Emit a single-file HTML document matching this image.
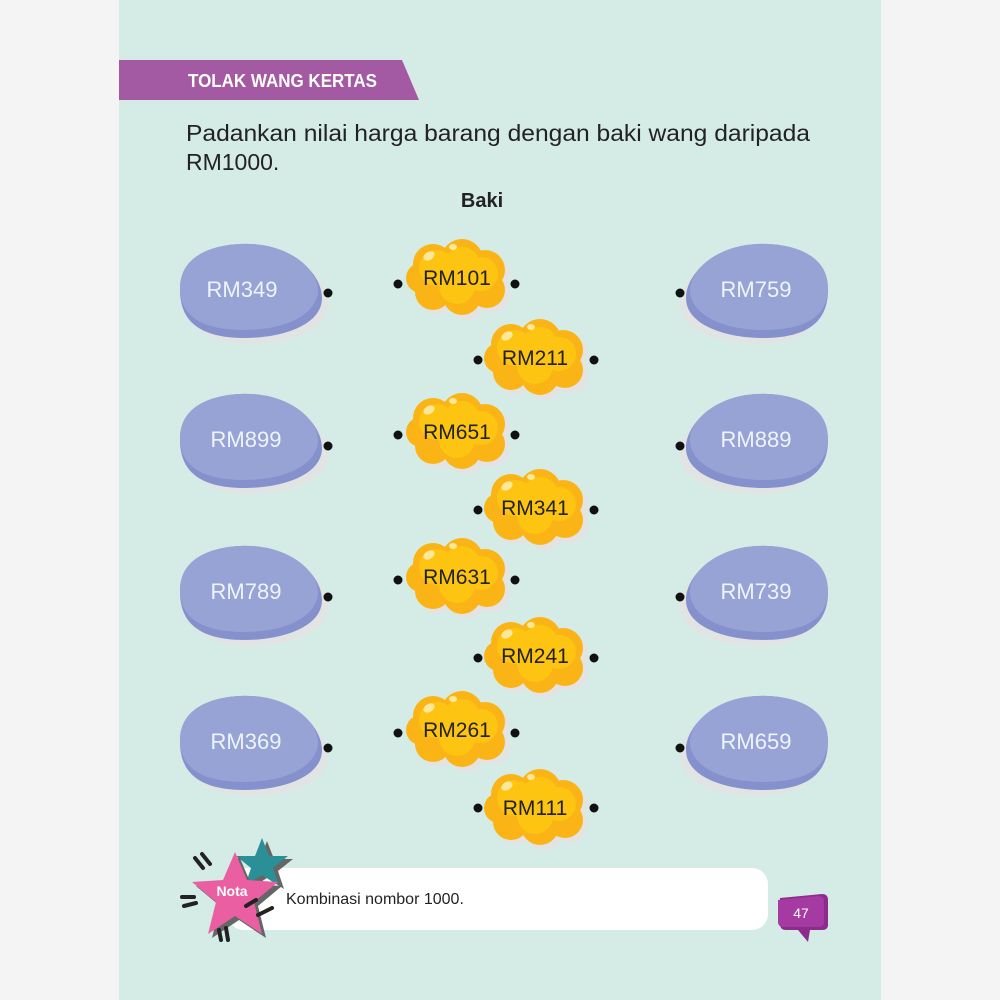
<!DOCTYPE html>
<html><head><meta charset="utf-8"><style>
body{margin:0;width:1000px;height:1000px;background:#f4f4f4;overflow:hidden}
svg{display:block}
text{font-family:"Liberation Sans",sans-serif}
</style></head><body>
<svg width="1000" height="1000" viewBox="0 0 1000 1000">
<defs>
<g id="eggL">
<path d="M-70,0 C-70,-38 -30,-47 0,-46 C40,-45 72,-18 72,8 C72,36 30,48 -5,48 C-45,48 -70,35 -70,0Z" fill="#e2e4e4" transform="translate(6,6)"/>
<path d="M-70,0 C-70,-38 -30,-47 0,-46 C40,-45 72,-18 72,8 C72,36 30,48 -5,48 C-45,48 -70,35 -70,0Z" fill="#8591cc"/>
<path d="M-70,-2 C-70,-38 -30,-47 0,-46 C40,-45 70,-20 68,3 C64,28 30,40 -5,40 C-45,40 -70,28 -70,-2Z" fill="#97a3d4"/>
</g>
<g id="cloud">
<g fill="#e3e3e3" transform="translate(5,5)">
<circle cx="-24" cy="-14" r="20"/><circle cx="5" cy="-18" r="21"/><circle cx="28" cy="-8" r="20"/><circle cx="30" cy="12" r="18"/><circle cx="5" cy="18" r="19"/><circle cx="-24" cy="14" r="18"/><circle cx="-36" cy="0" r="15"/></g>
<g fill="#fbb416">
<circle cx="-24" cy="-14" r="20"/><circle cx="5" cy="-18" r="21"/><circle cx="28" cy="-8" r="20"/><circle cx="30" cy="12" r="18"/><circle cx="5" cy="18" r="19"/><circle cx="-24" cy="14" r="18"/><circle cx="-36" cy="0" r="15"/></g>
<g fill="#fdc412"><circle cx="-20" cy="-10" r="18"/><circle cx="5" cy="-13" r="18"/><circle cx="24" cy="-4" r="17"/><circle cx="0" cy="8" r="18"/></g>
<ellipse cx="-28" cy="-22" rx="6" ry="4" fill="#fde89a" transform="rotate(-30 -28 -22)"/>
<ellipse cx="-4" cy="-31" rx="4" ry="3" fill="#fde89a"/>
</g>
</defs>
<rect x="119" y="0" width="762" height="1000" fill="#d5ece6"/>
<polygon points="119,60 402,60 419,100 119,100" fill="#a45aa2"/>
<text x="188" y="87" font-size="18" font-weight="bold" fill="#fff" textLength="189" lengthAdjust="spacingAndGlyphs">TOLAK WANG KERTAS</text>
<text x="186" y="141" font-size="23" fill="#222" textLength="624" lengthAdjust="spacingAndGlyphs">Padankan nilai harga barang dengan baki wang daripada</text>
<text x="186" y="170" font-size="23" fill="#222">RM1000.</text>
<text x="482" y="207" font-size="20" font-weight="bold" fill="#222" text-anchor="middle">Baki</text>

<g fill="#eef4fb" font-size="22" text-anchor="middle">
<use href="#eggL" x="250" y="290"/><text x="242" y="297">RM349</text>
<use href="#eggL" x="250" y="440"/><text x="246" y="447">RM899</text>
<use href="#eggL" x="250" y="592"/><text x="246" y="599">RM789</text>
<use href="#eggL" x="250" y="742"/><text x="246" y="749">RM369</text>
<use href="#eggL" transform="translate(758,290) scale(-1,1)"/><text x="756" y="297">RM759</text>
<use href="#eggL" transform="translate(758,440) scale(-1,1)"/><text x="756" y="447">RM889</text>
<use href="#eggL" transform="translate(758,592) scale(-1,1)"/><text x="756" y="599">RM739</text>
<use href="#eggL" transform="translate(758,742) scale(-1,1)"/><text x="756" y="749">RM659</text>
</g>

<g font-size="21" fill="#222" text-anchor="middle">
<use href="#cloud" x="457" y="278"/><text x="457" y="285">RM101</text>
<use href="#cloud" x="535" y="358"/><text x="535" y="365">RM211</text>
<use href="#cloud" x="457" y="432"/><text x="457" y="439">RM651</text>
<use href="#cloud" x="535" y="508"/><text x="535" y="515">RM341</text>
<use href="#cloud" x="457" y="577"/><text x="457" y="584">RM631</text>
<use href="#cloud" x="535" y="656"/><text x="535" y="663">RM241</text>
<use href="#cloud" x="457" y="730"/><text x="457" y="737">RM261</text>
<use href="#cloud" x="535" y="808"/><text x="535" y="815">RM111</text>
</g>

<g fill="#111">
<circle cx="328" cy="293" r="4.5"/><circle cx="328" cy="446" r="4.5"/><circle cx="328" cy="597" r="4.5"/><circle cx="328" cy="748" r="4.5"/>
<circle cx="680" cy="293" r="4.5"/><circle cx="680" cy="446" r="4.5"/><circle cx="680" cy="597" r="4.5"/><circle cx="680" cy="748" r="4.5"/>
<circle cx="398" cy="284" r="4.5"/><circle cx="515" cy="284" r="4.5"/>
<circle cx="398" cy="435" r="4.5"/><circle cx="515" cy="435" r="4.5"/>
<circle cx="398" cy="580" r="4.5"/><circle cx="515" cy="580" r="4.5"/>
<circle cx="398" cy="733" r="4.5"/><circle cx="515" cy="733" r="4.5"/>
<circle cx="478" cy="360" r="4.5"/><circle cx="594" cy="360" r="4.5"/>
<circle cx="478" cy="510" r="4.5"/><circle cx="594" cy="510" r="4.5"/>
<circle cx="478" cy="658" r="4.5"/><circle cx="594" cy="658" r="4.5"/>
<circle cx="478" cy="808" r="4.5"/><circle cx="594" cy="808" r="4.5"/>
</g>

<rect x="228" y="868" width="540" height="62" rx="16" fill="#fff"/>
<text x="286" y="904" font-size="16" fill="#222">Kombinasi nombor 1000.</text>
<polygon points="264,838 271,856 290,856 275,868 281,886 264,875 247,886 253,868 238,856 257,856" fill="#666" transform="translate(3,3)"/>
<polygon points="262,838 269,856 288,856 273,868 279,886 262,875 245,886 251,868 236,856 255,856" fill="#2a8f97"/>
<polygon points="235,852 247,880 278,882 254,902 262,934 235,916 208,934 216,902 192,882 223,880" fill="#666" transform="translate(4,4)"/>
<polygon points="235,852 247,880 278,882 254,902 262,934 235,916 208,934 216,902 192,882 223,880" fill="#e95fa2"/>
<text x="232" y="896" font-size="14" font-weight="bold" fill="#fff" text-anchor="middle">Nota</text>
<g stroke="#222" stroke-width="4" stroke-linecap="round">
<line x1="195" y1="858" x2="203" y2="868"/><line x1="202" y1="854" x2="210" y2="864"/>
<line x1="182" y1="897" x2="194" y2="897"/><line x1="184" y1="906" x2="196" y2="903"/>
<line x1="246" y1="906" x2="256" y2="900"/><line x1="258" y1="915" x2="272" y2="908"/>
<line x1="219" y1="930" x2="221" y2="940"/><line x1="226" y1="928" x2="228" y2="940"/>
</g>
<path d="M780,898 L822,894 Q828,894 828,900 L828,925 Q828,930 822,930 L810,930 L808,942 L798,930 L786,930 Q780,930 780,924Z" fill="#8e2c8e"/>
<path d="M778,900 L818,896 Q824,896 824,902 L824,922 Q824,927 818,927 L784,927 Q778,927 778,922Z" fill="#a63aa3"/>
<text x="801" y="918" font-size="14" fill="#fff" text-anchor="middle">47</text>
</svg>
</body></html>
